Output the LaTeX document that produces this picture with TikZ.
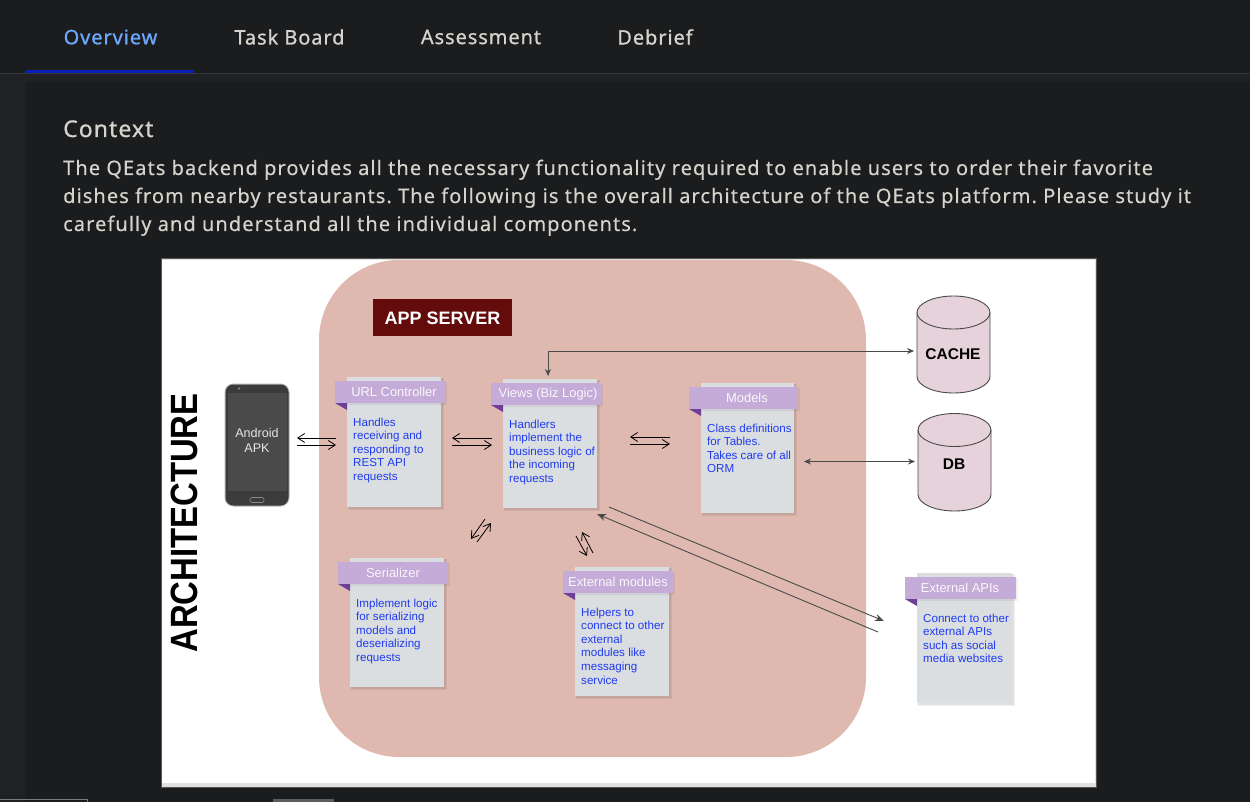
\documentclass[tikz,border=0pt]{standalone}
\usepackage{fontspec}
\usepackage{graphicx}
\usetikzlibrary{arrows.meta}
\setmainfont{Liberation Sans}
\newfontfamily\uifontb[LetterSpace=4.6,FakeBold=0.8]{Noto Sans}
\newfontfamily\uifontc[LetterSpace=5.35,FakeBold=0.3]{Noto Sans}
\frenchspacing
\definecolor{pagebg}{HTML}{1A1C1E}
\definecolor{stripbg}{HTML}{1F2124}
\definecolor{ruleline}{HTML}{34363A}
\definecolor{tabblue}{HTML}{6EA8FE}
\definecolor{tabrule}{HTML}{0A1FB4}
\definecolor{uitext}{HTML}{D6D2CC}
\definecolor{serverpink}{HTML}{DFB9B0}
\definecolor{serverlabel}{HTML}{640B0B}
\definecolor{cardbody}{HTML}{DBDEE1}
\definecolor{cardhead}{HTML}{C5ABD8}
\definecolor{cardfold}{HTML}{6E3F97}
\definecolor{cardtext}{HTML}{1F3BF0}
\definecolor{cylfill}{HTML}{E6D2DB}
\definecolor{linkgrey}{HTML}{4A4A4A}
\tikzset{
  tab/.style={font=\uifontb\fontsize{20}{24}\selectfont,text=uitext,inner sep=0pt,anchor=center},
  para/.style={font=\uifontc\fontsize{20}{24}\selectfont,text=uitext,inner sep=0pt,anchor=base west},
  cardtxt/.style={font=\fontsize{11.6}{13.6}\selectfont,text=cardtext,align=left,inner sep=0pt,anchor=north west},
  cardttl/.style={font=\fontsize{12.9}{15}\selectfont,text=white!90!cardhead,inner sep=0pt,anchor=center},
  dbl/.style={draw=black,line width=.8pt,-{Straight Barb[length=7pt,width=9pt,line width=.8pt]}},
  link/.style={draw=linkgrey,line width=.9pt},
}
\newcommand{\card}[8]{% name, bx, by, width, height, title x, title, text
  \fill[black,opacity=.06] (#2+1,#3+1) rectangle (#2+#4+3,#3+#5+3);
  \fill[black,opacity=.06] (#2+1,#3+1) rectangle (#2+#4+2,#3+#5+2);
  \fill[cardbody] (#2,#3) rectangle (#2+#4,#3+#5);
  \fill[black,opacity=.06] (#2-11,#3+5) rectangle (#2+#4+6,#3+28);
  \fill[cardhead] (#2-12,#3+4) rectangle (#2+#4+4,#3+26);
  \fill[cardfold] (#2-12,#3+26) -- (#2,#3+26) -- (#2,#3+33) -- cycle;
  \node[cardttl] (#1title) at (#6,#3+15) {#7};
  \node[cardtxt] (#1text) at (#2+6,#3+40.5) {#8};
}
\newcommand{\cyl}[6]{% name, x1, top centre, bottom centre, label, label y
  \draw[fill=cylfill,draw=linkgrey,line width=.9pt] (#2,#3) -- (#2,#4)
    .. controls +(0,9) and +(-20,0) .. ++(36.5,16.5)
    .. controls +(20,0) and +(0,9) .. ++(36.5,-16.5)
    -- ++(0,#3-#4)
    .. controls +(0,-9) and +(20,0) .. ++(-36.5,-16.5)
    .. controls +(-20,0) and +(0,-9) .. ++(-36.5,16.5) -- cycle;
  \draw[draw=linkgrey,line width=.9pt] (#2,#3)
    .. controls +(0,9) and +(-20,0) .. ++(36.5,16.5)
    .. controls +(20,0) and +(0,9) .. ++(36.5,-16.5);
  \node[font=\bfseries\fontsize{15.5}{18}\selectfont,text=black,inner sep=0pt] (#1) at (#2+36,#6) {#5};
}
\begin{document}
\begin{tikzpicture}[x=1pt,y=-1pt]
\useasboundingbox (0,0) rectangle (1250,802);
% page
\fill[pagebg] (0,0) rectangle (1250,802);
\fill[stripbg] (0,74) rectangle (1250,82);
\fill[stripbg] (0,74) rectangle (25,802);
\fill[ruleline] (0,73) rectangle (1250,74);
\fill[tabrule] (25,70) rectangle (194,73.5);
\fill[pagebg] (25,82) rectangle (1250,802);
\draw[draw=stripbg!60!white,line width=.8pt] (0,799.5) -- (87,799.5) -- (87,802);
\fill[white!28!pagebg] (273,799) rectangle (334,802);
% tabs
\node[tab,text=tabblue] (tabA) at (110.5,37) {Overview};
\node[tab] (tabB) at (289.5,37) {Task Board};
\node[tab] (tabC) at (481,37) {Assessment};
\node[tab] (tabD) at (655,37) {Debrief};
% text
\node[para,font=\uifontb\fontsize{23}{27}\selectfont] (ctx) at (63,137) {Context};
\node[para] (l1) at (63,175) {The QEats backend provides all the necessary functionality required to enable users to order their favorite};
\node[para] (l2) at (63,203) {dishes from nearby restaurants. The following is the overall architecture of the QEats platform. Please study it};
\node[para] (l3) at (63,231) {carefully and understand all the individual components.};
% image
\fill[white!25!pagebg] (160.5,258.5) rectangle (1097,787.5);
\fill[white!88!black] (161.5,259.5) rectangle (1096,786.5);
\fill[white] (162,260) rectangle (1095,783);
% server
\fill[serverpink,rounded corners=80pt] (319,260) rectangle (866,757);
\fill[serverlabel] (373,299) rectangle (512,336);
\node[font=\bfseries\fontsize{18}{22}\selectfont,text=white,inner sep=0pt] (appserver) at (442.5,318) {APP SERVER};
% architecture
\node[rotate=90,font=\bfseries\fontsize{38}{44}\selectfont,text=black,inner sep=0pt] (arch) at (184.5,523) {\scalebox{0.865}[1]{ARCHITECTURE}};
% phone
\fill[white!70!black,rounded corners=9pt] (224.5,383.5) rectangle (289.5,506.5);
\fill[white!23!black,rounded corners=8pt] (225.5,384.5) rectangle (288.5,505.5);
\fill[white!29!black] (228,393) rectangle (287,491);
\draw[white!55!black,line width=.6pt,rounded corners=2pt] (250,497.5) rectangle (264,502.5);
\fill[white!50!black] (239,388.5) circle[radius=1.3];
\node[font=\fontsize{12.6}{15}\selectfont,text=white!90!black,align=center,inner sep=0pt] (apk) at (257,440.5) {Android\\APK};
% cards
\card{url}{347}{377}{94}{130}{394}{URL Controller}{Handles\\receiving and\\responding to\\REST API\\requests}
\card{views}{503}{379}{94}{129}{548}{Views (Biz Logic)}{Handlers\\implement the\\business logic of\\the incoming\\requests}
\card{models}{701}{383}{93}{130}{747}{Models}{Class definitions\\for Tables.\\Takes care of all\\ORM}
\card{ser}{350}{558}{94}{129}{393}{Serializer}{Implement logic\\for serializing\\models and\\deserializing\\requests}
\card{ext}{575}{567}{94}{129}{618}{External modules}{Helpers to\\connect to other\\external\\modules like\\messaging\\service}
\card{api}{917}{573}{95}{130}{960}{External APIs}{Connect to other\\external APIs\\such as social\\media websites}
% cylinders
\cyl{cache}{917}{312.5}{376.5}{CACHE}{354}
\cyl{db}{918}{430}{494.5}{DB}{464}
% connector ends
\coordinate (a1) at (336,438); \coordinate (a2) at (297,438);
\coordinate (a3) at (297,445); \coordinate (a4) at (336,445);
\coordinate (b1) at (492,438); \coordinate (b2) at (452,438);
\coordinate (b3) at (452,445); \coordinate (b4) at (492,445);
\coordinate (c1) at (670,437); \coordinate (c2) at (630,437);
\coordinate (c3) at (630,444); \coordinate (c4) at (670,444);
\coordinate (d1) at (485,519); \coordinate (d2) at (471,539);
\coordinate (d3) at (477,542); \coordinate (d4) at (491,523);
\coordinate (e1) at (576,536); \coordinate (e2) at (587,556);
\coordinate (e3) at (593,553); \coordinate (e4) at (582,532);
\coordinate (f1) at (548,376); \coordinate (f2) at (548,351); \coordinate (f3) at (914,351);
\coordinate (g1) at (804,461.5); \coordinate (g2) at (915,461.5);
\coordinate (h1) at (609,507); \coordinate (h2) at (884,621);
\coordinate (i1) at (878,632); \coordinate (i2) at (597,514);
\draw[dbl] (a1) -- (a2); \draw[dbl] (a3) -- (a4);
\draw[dbl] (b1) -- (b2); \draw[dbl] (b3) -- (b4);
\draw[dbl] (c1) -- (c2); \draw[dbl] (c3) -- (c4);
\draw[dbl] (d1) -- (d2); \draw[dbl] (d3) -- (d4);
\draw[dbl] (e1) -- (e2); \draw[dbl] (e3) -- (e4);
\draw[link,{Stealth[length=7pt,width=6pt]}-{Stealth[length=7pt,width=6pt]}] (f1) -- (f2) -- (f3);
\draw[link,{Stealth[length=7pt,width=6pt]}-{Stealth[length=7pt,width=6pt]}] (g1) -- (g2);
\draw[link,-{Stealth[length=9pt,width=7pt]}] (h1) -- (h2);
\draw[link,-{Stealth[length=9pt,width=7pt]}] (i1) -- (i2);
\end{tikzpicture}
\end{document}
